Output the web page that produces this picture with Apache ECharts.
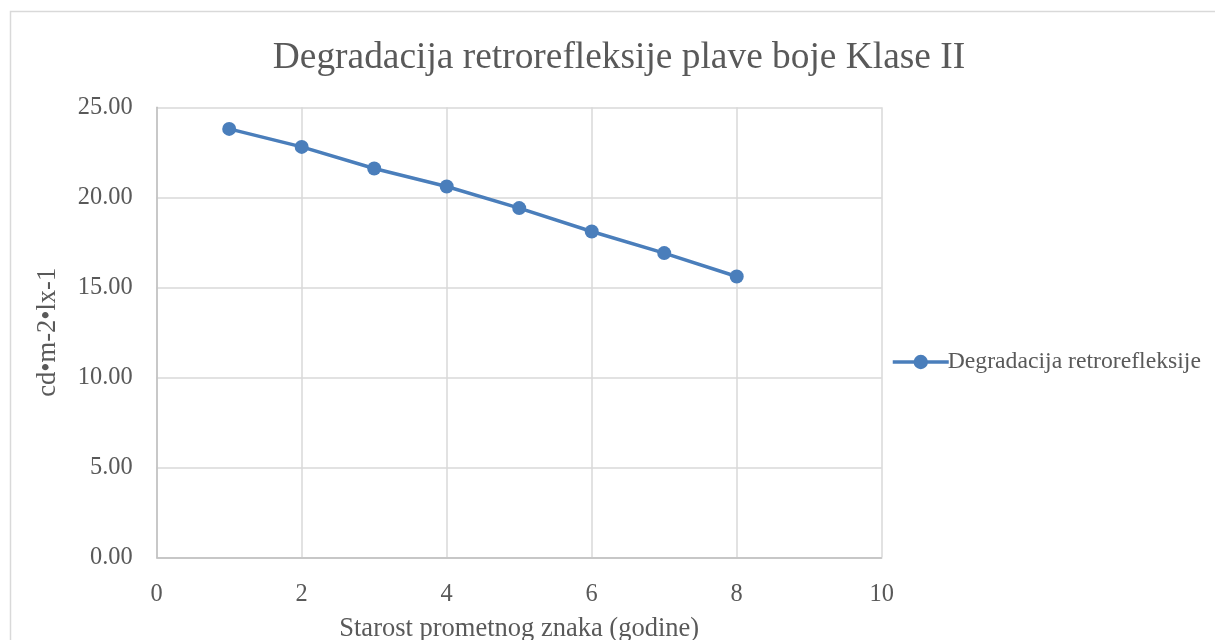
<!DOCTYPE html>
<html>
<head>
<meta charset="utf-8">
<script src="https://cdn.jsdelivr.net/npm/echarts@6/dist/echarts.min.js"></script>
<style>
  html, body { margin: 0; padding: 0; background: #fff; }
  #chart { width: 1215px; height: 640px; }
</style>
</head>
<body>
<div id="chart"></div>
<script>
// podaci očitani sa slike
var godine = [1, 2, 3, 4, 5, 6, 7, 8];
var retrorefleksija = [23.8, 22.8, 21.6, 20.6, 19.4, 18.1, 16.9, 15.6];
var nazivSerije = "Degradacija retrorefleksije";
var naslov = "Degradacija retrorefleksije plave boje Klase II";
var nazivX = "Starost prometnog znaka (godine)";
var nazivY = "cd•m-2•lx-1";

var font = "'Liberation Serif', 'Times New Roman', serif";
var siva = "#595959";
var plava = "#4a7ebb";

var chart = echarts.init(document.getElementById("chart"));

var points = godine.map(function (g, i) { return [g, retrorefleksija[i]]; });

var option = {
  animation: false,
  backgroundColor: "#fff",
  textStyle: { fontFamily: font },
  graphic: [
    {
      // okvir grafikona
      type: "rect",
      shape: { x: 10.5, y: 11.5, width: 1240, height: 700 },
      style: { fill: "none", stroke: "#d9d9d9", lineWidth: 1.5 },
      silent: true
    }
  ],
  title: {
    text: naslov,
    left: 614,
    top: 35,
    textAlign: "center",
    textStyle: { fontFamily: font, fontSize: 37.4, fontWeight: "normal", color: siva }
  },
  legend: {
    data: [nazivSerije],
    left: 886,
    top: 345,
    orient: "vertical",
    itemWidth: 56,
    itemHeight: 18,
    itemGap: 5,
    lineStyle: { width: 3.5 },
    textStyle: { fontFamily: font, fontSize: 23.7, color: siva, padding: [0, 0, 0, -6] }
  },
  grid: {
    left: 156.7,
    right: 333.3,
    top: 107.3,
    bottom: 82.7,
    containLabel: false,
    outerBoundsMode: "none"
  },
  xAxis: {
    type: "value",
    min: 0,
    max: 10,
    interval: 2,
    name: nazivX,
    nameLocation: "middle",
    nameGap: 58,
    nameTextStyle: { fontFamily: font, fontSize: 26.5, color: siva },
    axisLine: { show: true, lineStyle: { color: "#bfbfbf", width: 1.5 } },
    axisTick: { show: false },
    axisLabel: { fontFamily: font, fontSize: 24.4, color: siva, margin: 25 },
    splitLine: { show: true, lineStyle: { color: "#d9d9d9", width: 1.5 } }
  },
  yAxis: {
    type: "value",
    min: 0,
    max: 25,
    interval: 5,
    name: nazivY,
    nameLocation: "middle",
    nameGap: 95,
    nameRotate: 90,
    nameTextStyle: { fontFamily: font, fontSize: 26.5, color: siva },
    axisLine: { show: true, lineStyle: { color: "#bfbfbf", width: 1.5 } },
    axisTick: { show: false },
    axisLabel: {
      fontFamily: font, fontSize: 24.4, color: siva, margin: 24,
      formatter: function (v) { return v.toFixed(2); }
    },
    splitLine: { show: true, lineStyle: { color: "#d9d9d9", width: 1.5 } }
  },
  series: [
    {
      name: nazivSerije,
      type: "line",
      data: points,
      symbol: "circle",
      symbolSize: 14,
      itemStyle: { color: plava },
      lineStyle: { color: plava, width: 3.5 }
    }
  ]
};

chart.setOption(option);
</script>
</body>
</html>
